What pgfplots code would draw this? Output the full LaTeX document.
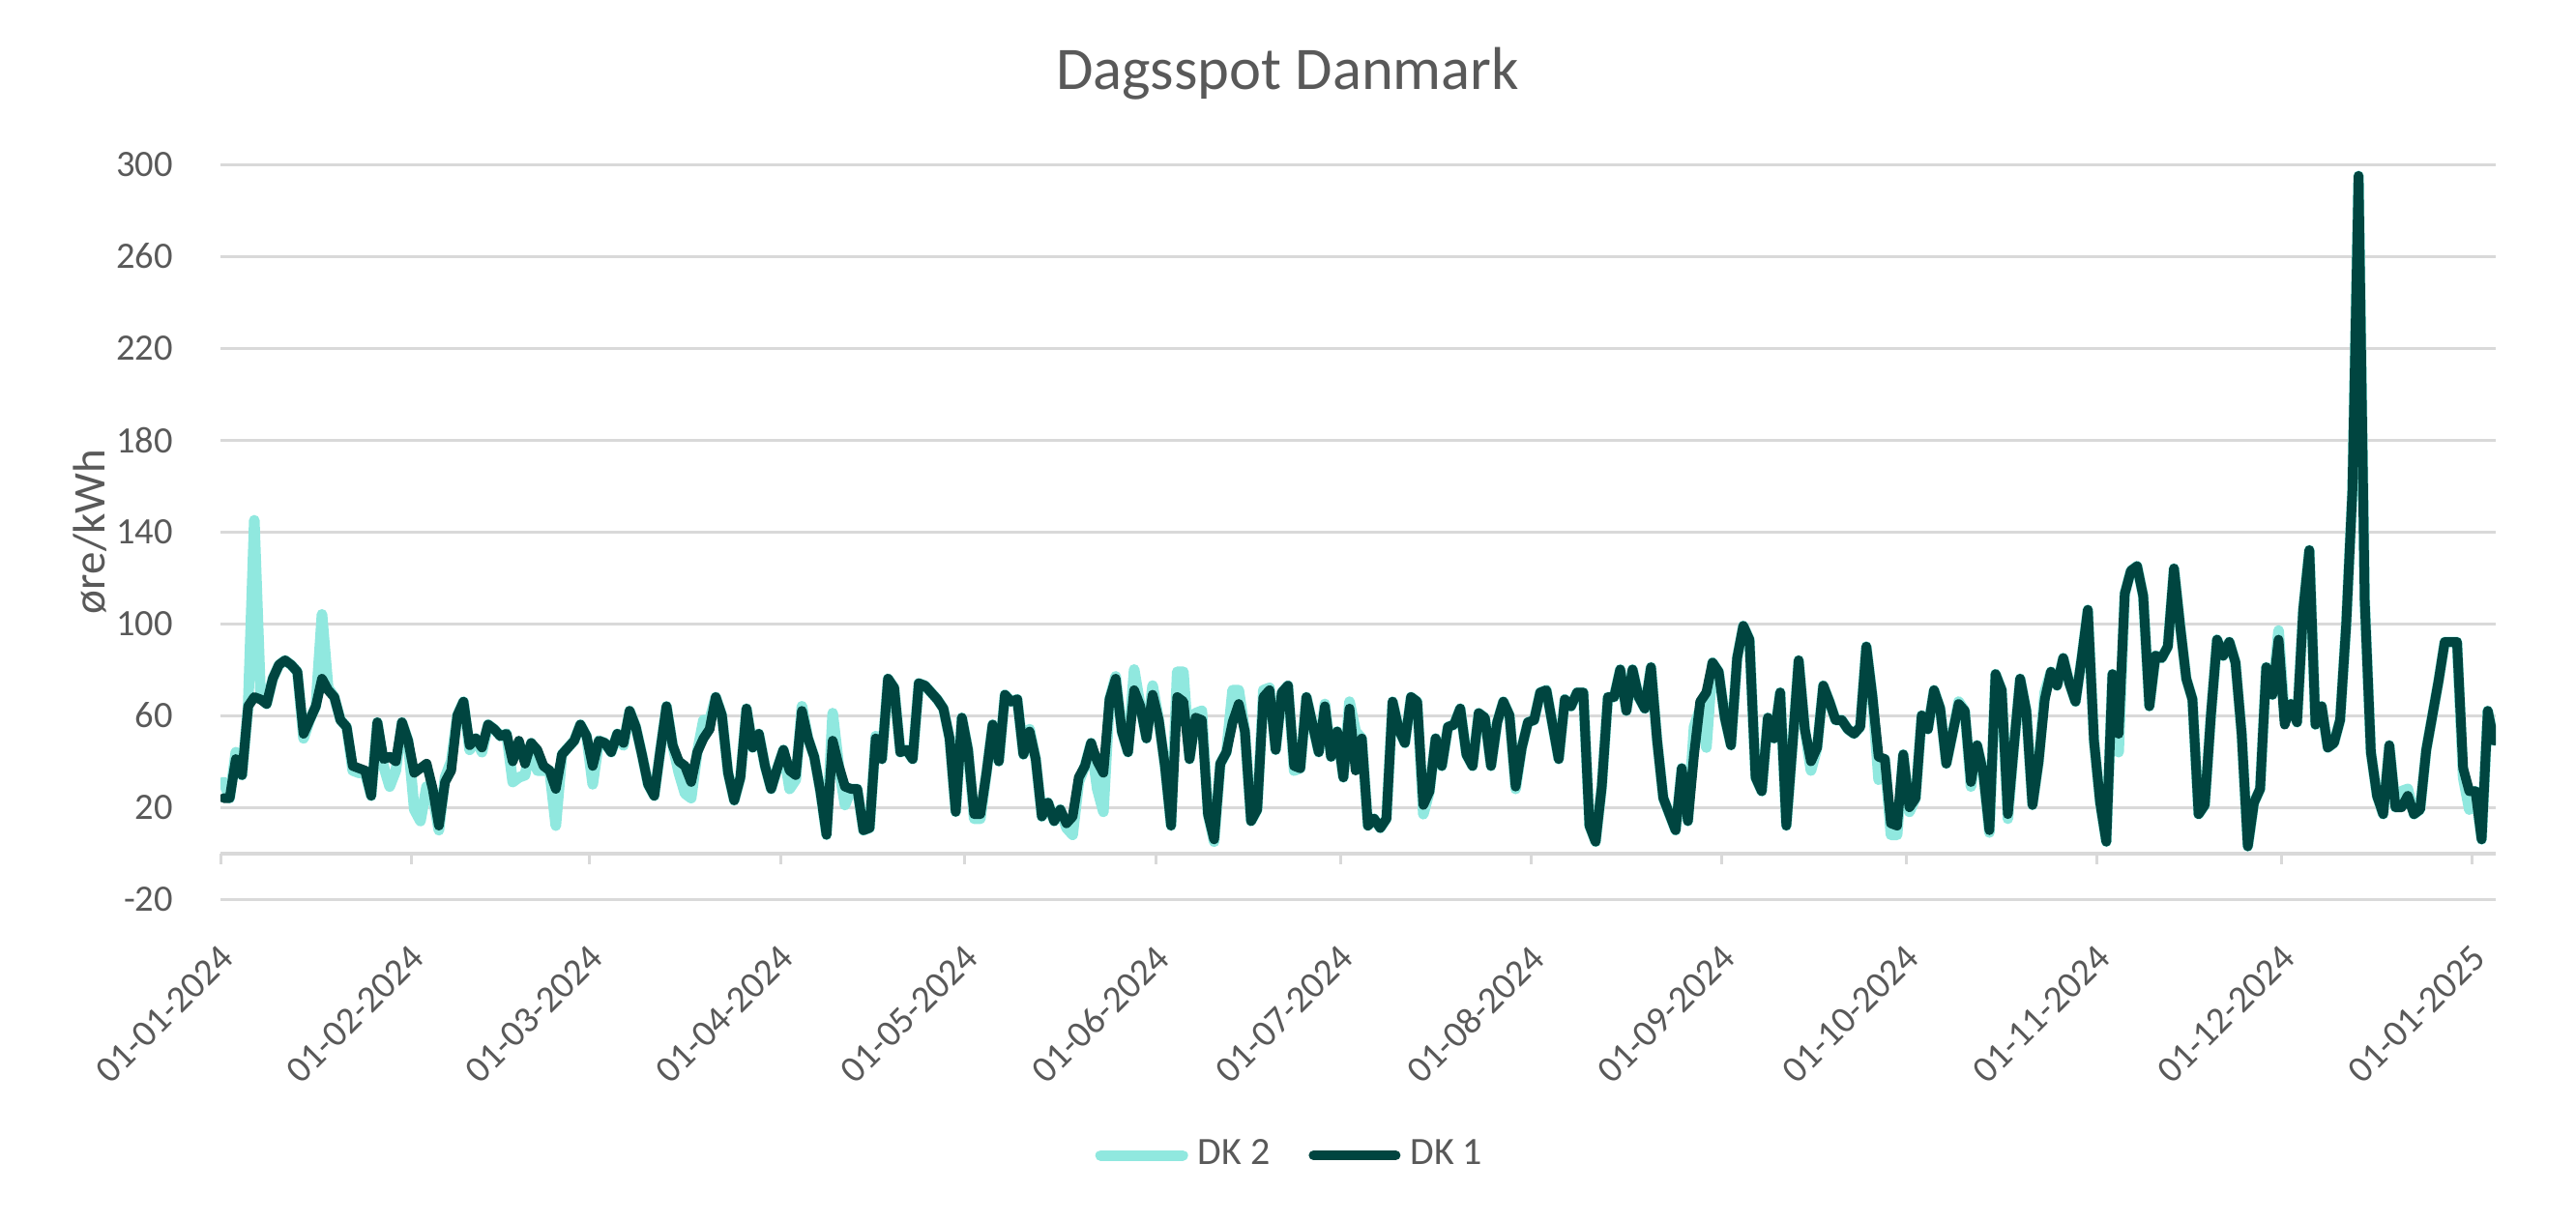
\documentclass[border=0pt]{standalone}
\usepackage{fontspec}
\setmainfont{Carlito}
\usepackage{pgfplots}
\usepackage{pgfplotstable}
\pgfplotsset{compat=1.18}
\definecolor{dkone}{HTML}{004540}
\definecolor{dktwo}{HTML}{90E8DF}
\definecolor{txt}{HTML}{595959}
\definecolor{gridc}{HTML}{D9D9D9}

\pgfplotstableread{
x dk1 dk2
0.5 24 31
1.5 24 24
2.5 41 44
3.5 34 34
4.5 64 64
5.5 68 145
6.5 67 70
7.5 65 65
8.5 76 76
9.5 82 82
10.5 84 84
11.5 82 82
12.5 79 79
13.5 52 50
14.5 58 58
15.5 64 64
16.5 76 104
17.5 71 72
18.5 68 68
19.5 58 58
20.5 55 55
21.5 38 36
22.5 37 35
23.5 36 35
24.5 25 25
25.5 57 57
26.5 41 38
27.5 42 29
28.5 40 36
29.5 57 57
30.5 49 49
31.5 35 19
32.5 37 14
33.5 39 29
34.5 28 25
35.5 12 10
36.5 31 33
37.5 36 40
38.5 60 60
39.5 66 66
40.5 47 45
41.5 50 50
42.5 46 44
43.5 56 56
44.5 54 54
45.5 51 51
46.5 52 52
47.5 40 31
48.5 49 33
49.5 39 34
50.5 48 48
51.5 45 36
52.5 38 36
53.5 36 36
54.5 28 12
55.5 43 43
56.5 46 46
57.5 49 49
58.5 56 56
59.5 51 51
60.5 38 30
61.5 49 49
62.5 48 48
63.5 44 44
64.5 52 52
65.5 48 47
66.5 62 62
67.5 55 55
68.5 43 43
69.5 30 30
70.5 25 25
71.5 45 45
72.5 64 64
73.5 47 47
74.5 40 35
75.5 38 26
76.5 31 24
77.5 44 44
78.5 50 58
79.5 54 58
80.5 68 68
81.5 60 60
82.5 35 35
83.5 23 23
84.5 33 33
85.5 63 63
86.5 46 46
87.5 52 52
88.5 38 38
89.5 28 28
90.5 37 37
91.5 45 45
92.5 36 28
93.5 34 32
94.5 62 64
95.5 50 50
96.5 42 42
97.5 27 27
98.5 8 8
99.5 49 61
100.5 38 38
101.5 29 21
102.5 28 28
103.5 28 28
104.5 10 10
105.5 11 11
106.5 50 51
107.5 41 41
108.5 76 76
109.5 72 72
110.5 44 44
111.5 45 45
112.5 41 41
113.5 74 74
114.5 73 73
115.5 70 70
116.5 67 67
117.5 63 63
118.5 50 50
119.5 18 18
120.5 59 59
121.5 45 45
122.5 17 15
123.5 17 15
124.5 35 35
125.5 56 56
126.5 40 40
127.5 69 69
128.5 66 66
129.5 67 67
130.5 43 43
131.5 53 54
132.5 41 41
133.5 16 16
134.5 22 22
135.5 14 14
136.5 19 19
137.5 13 11
138.5 16 8
139.5 33 31
140.5 38 38
141.5 48 48
142.5 40 28
143.5 35 18
144.5 67 67
145.5 76 77
146.5 53 53
147.5 44 44
148.5 71 80
149.5 64 64
150.5 50 50
151.5 69 73
152.5 58 58
153.5 38 38
154.5 12 12
155.5 68 79
156.5 66 79
157.5 41 41
158.5 59 61
159.5 58 62
160.5 17 17
161.5 6 5
162.5 39 39
163.5 44 44
164.5 57 71
165.5 65 71
166.5 53 53
167.5 14 14
168.5 19 19
169.5 68 71
170.5 71 72
171.5 45 45
172.5 70 70
173.5 73 73
174.5 38 36
175.5 37 37
176.5 68 68
177.5 56 56
178.5 44 44
179.5 64 65
180.5 42 42
181.5 53 53
182.5 33 33
183.5 63 66
184.5 36 53
185.5 50 50
186.5 12 12
187.5 15 15
188.5 11 11
189.5 15 15
190.5 66 66
191.5 54 54
192.5 48 48
193.5 68 68
194.5 66 66
195.5 21 17
196.5 27 27
197.5 50 50
198.5 38 38
199.5 55 55
200.5 56 56
201.5 63 63
202.5 43 43
203.5 38 38
204.5 61 61
205.5 59 59
206.5 38 38
207.5 57 57
208.5 66 66
209.5 60 60
210.5 29 28
211.5 46 46
212.5 57 57
213.5 58 58
214.5 70 70
215.5 71 71
216.5 56 56
217.5 41 41
218.5 67 67
219.5 64 64
220.5 70 70
221.5 70 70
222.5 12 12
223.5 5 5
224.5 29 29
225.5 68 68
226.5 68 68
227.5 80 80
228.5 62 62
229.5 80 80
230.5 68 68
231.5 63 63
232.5 81 81
233.5 49 49
234.5 24 24
235.5 17 17
236.5 10 10
237.5 37 37
238.5 14 14
239.5 43 55
240.5 66 63
241.5 70 46
242.5 83 83
243.5 79 79
244.5 59 59
245.5 47 47
246.5 85 85
247.5 99 99
248.5 93 93
249.5 33 33
250.5 27 27
251.5 59 59
252.5 50 50
253.5 70 70
254.5 12 12
255.5 47 47
256.5 84 84
257.5 54 54
258.5 40 36
259.5 46 46
260.5 73 73
261.5 66 66
262.5 58 58
263.5 58 58
264.5 54 54
265.5 52 52
266.5 55 55
267.5 90 90
268.5 68 68
269.5 42 32
270.5 41 41
271.5 13 8
272.5 12 8
273.5 43 43
274.5 20 18
275.5 24 24
276.5 60 60
277.5 54 54
278.5 71 71
279.5 63 63
280.5 39 39
281.5 52 52
282.5 65 66
283.5 62 62
284.5 31 29
285.5 47 47
286.5 35 35
287.5 10 9
288.5 78 78
289.5 71 71
290.5 17 15
291.5 47 47
292.5 76 76
293.5 62 62
294.5 21 21
295.5 40 40
296.5 67 70
297.5 79 79
298.5 73 73
299.5 85 85
300.5 74 74
301.5 66 66
302.5 85 85
303.5 106 106
304.5 49 49
305.5 22 22
306.5 5 5
307.5 78 78
308.5 52 44
309.5 113 113
310.5 123 123
311.5 125 125
312.5 112 112
313.5 64 64
314.5 86 86
315.5 85 85
316.5 90 90
317.5 124 124
318.5 99 99
319.5 76 76
320.5 67 67
321.5 17 17
322.5 21 21
323.5 60 60
324.5 93 93
325.5 86 86
326.5 92 92
327.5 83 83
328.5 52 52
329.5 3 3
330.5 22 22
331.5 28 28
332.5 81 81
333.5 69 69
334.5 93 97
335.5 56 58
336.5 65 65
337.5 57 57
338.5 106 106
339.5 132 132
340.5 56 56
341.5 64 64
342.5 46 46
343.5 48 48
344.5 58 58
345.5 100 100
346.5 158 158
347.5 295 295
348.5 110 110
349.5 44 44
350.5 25 25
351.5 17 17
352.5 47 47
353.5 20 20
354.5 20 27
355.5 25 28
356.5 17 17
357.5 19 19
358.5 45 45
359.5 60 60
360.5 75 75
361.5 92 92
362.5 92 92
363.5 92 92
364.5 37 33
365.5 27 19
366.5 27 27
367.5 6 6
368.5 62 62
369.5 49 49
}\spot

\begin{document}
\begin{tikzpicture}
\useasboundingbox (-45.6pt,-66.6pt) rectangle (487.2pt,186pt);
\begin{axis}[
  scale only axis,
  width=470.6pt, height=152pt,
  xmin=0, xmax=369.8,
  ymin=-20, ymax=300,
  clip mode=individual,
  axis line style={draw=none},
  major tick length=0pt,
  ytick={-20,20,60,100,140,180,220,260,300},
  yticklabels={-20,20,60,100,140,180,220,260,300},
  ymajorgrids,
  grid style={gridc, line width=0.6pt},
  xtick={0,31,60,91,121,152,182,213,244,274,305,335,366},
  xticklabels={01-01-2024,01-02-2024,01-03-2024,01-04-2024,01-05-2024,01-06-2024,01-07-2024,01-08-2024,01-09-2024,01-10-2024,01-11-2024,01-12-2024,01-01-2025},
  xticklabel style={xshift=-0.5pt, yshift=-8.8pt, rotate=45, anchor=north east, inner sep=0pt, font=\fontsize{7.8}{9}\selectfont, text=txt},
  yticklabel style={anchor=east, inner sep=0pt, xshift=-9.6pt, font=\fontsize{7.7}{9}\selectfont, text=txt},
  legend style={at={(0.4717,-0.3487)}, anchor=center, draw=none, fill=none,
    legend columns=2, font=\fontsize{8}{9.6}\selectfont, text=txt,
    /tikz/every even column/.append style={column sep=6pt}},
  legend image code/.code={\draw[#1, line cap=round] (0pt,0pt) -- (17pt,0pt);},
]
\draw[gridc, line width=0.8pt] (axis cs:0,0) -- (axis cs:369.8,0);
\pgfplotsinvokeforeach{0,31,60,91,121,152,182,213,244,274,305,335,366}{
  \draw[gridc, line width=0.6pt] (axis cs:#1,0) -- ++(0pt,-2.2pt);
}
\addplot[dktwo, line width=2.2pt, line join=round, line cap=round] table[x=x, y=dk2] {\spot};
\addlegendentry{DK 2}
\addplot[dkone, line width=2pt, line join=round, line cap=round] table[x=x, y=dk1] {\spot};
\addlegendentry{DK 1}
\node[font=\fontsize{12.5}{15}\selectfont, text=txt] at (axis description cs:0.469,1.1237) {Dagsspot Danmark};
\node[rotate=90, font=\fontsize{9.4}{11}\selectfont, text=txt] at (axis description cs:-0.0574,0.5) {øre/kWh};
\end{axis}
\end{tikzpicture}
\end{document}
